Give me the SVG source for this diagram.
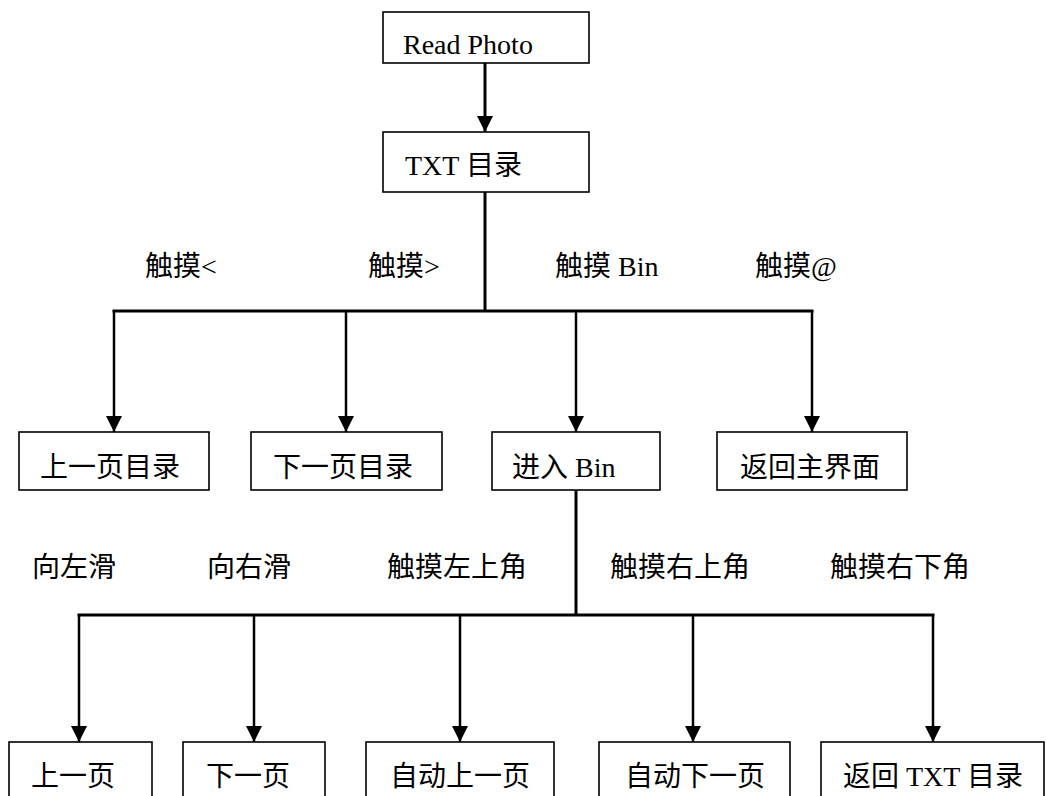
<svg xmlns="http://www.w3.org/2000/svg" width="1046" height="796" viewBox="0 0 1046 796">
<style>
.box{fill:#fff;stroke:#000;stroke-width:1.6}
.t{font-family:"Liberation Serif","Noto Sans CJK SC",serif;font-size:28px;fill:#000}
.c{fill:none;stroke:#000;stroke-width:3}
.b{fill:none;stroke:#000;stroke-width:2.5}
</style>
<defs>
<marker id="ah" markerUnits="userSpaceOnUse" markerWidth="16" markerHeight="16" viewBox="0 0 16 16" refX="16" refY="8" orient="auto">
<path d="M0,0 L16,8 L0,16 Z" fill="#000"/>
</marker>
</defs>
<rect width="1046" height="796" fill="#fff"/>
<g id="connectors">
<line class="c" x1="485" y1="63" x2="485" y2="132" marker-end="url(#ah)"/>
<polyline class="c" points="485,192 485,311"/>
<line class="c" x1="112.5" y1="311" x2="813.5" y2="311"/>
<line class="b" x1="114" y1="311" x2="114" y2="432" marker-end="url(#ah)"/>
<line class="b" x1="346" y1="311" x2="346" y2="432" marker-end="url(#ah)"/>
<line class="b" x1="576" y1="311" x2="576" y2="432" marker-end="url(#ah)"/>
<line class="b" x1="812" y1="311" x2="812" y2="432" marker-end="url(#ah)"/>
<polyline class="c" points="576,490 576,615"/>
<line class="c" x1="77.5" y1="615" x2="934.5" y2="615"/>
<line class="b" x1="79" y1="615" x2="79" y2="742" marker-end="url(#ah)"/>
<line class="b" x1="254" y1="615" x2="254" y2="742" marker-end="url(#ah)"/>
<line class="b" x1="460" y1="615" x2="460" y2="742" marker-end="url(#ah)"/>
<line class="b" x1="693" y1="615" x2="693" y2="742" marker-end="url(#ah)"/>
<line class="b" x1="933" y1="615" x2="933" y2="742" marker-end="url(#ah)"/>
</g>
<g id="labels">
<text class="t" x="145" y="276">触摸&lt;</text>
<text class="t" x="368" y="276">触摸&gt;</text>
<text class="t" x="555" y="276">触摸 Bin</text>
<text class="t" x="755" y="276">触摸@</text>
<text class="t" x="32" y="577">向左滑</text>
<text class="t" x="207" y="577">向右滑</text>
<text class="t" x="387" y="577">触摸左上角</text>
<text class="t" x="610" y="577">触摸右上角</text>
<text class="t" x="830" y="577">触摸右下角</text>
</g>
<g id="read-photo"><rect class="box" x="383" y="12" width="206" height="51"/><text class="t" x="403" y="54">Read Photo</text></g>
<g id="txt-dir"><rect class="box" x="383" y="132" width="206" height="60"/><text class="t" x="405" y="175">TXT 目录</text></g>
<g id="prev-dir"><rect class="box" x="19" y="432" width="190" height="58"/><text class="t" x="40" y="477">上一页目录</text></g>
<g id="next-dir"><rect class="box" x="251" y="432" width="191" height="58"/><text class="t" x="273" y="477">下一页目录</text></g>
<g id="enter-bin"><rect class="box" x="492" y="432" width="168" height="58"/><text class="t" x="512" y="477">进入 Bin</text></g>
<g id="back-main"><rect class="box" x="717" y="432" width="190" height="58"/><text class="t" x="740" y="477">返回主界面</text></g>
<g id="prev-page"><rect class="box" x="9" y="742" width="143" height="70"/><text class="t" x="31" y="786">上一页</text></g>
<g id="next-page"><rect class="box" x="183" y="742" width="142" height="70"/><text class="t" x="206" y="786">下一页</text></g>
<g id="auto-prev"><rect class="box" x="366" y="742" width="188" height="70"/><text class="t" x="390" y="786">自动上一页</text></g>
<g id="auto-next"><rect class="box" x="599" y="742" width="191" height="70"/><text class="t" x="625" y="786">自动下一页</text></g>
<g id="back-txt"><rect class="box" x="821" y="742" width="223" height="70"/><text class="t" x="843" y="786">返回 TXT 目录</text></g>
</svg>
